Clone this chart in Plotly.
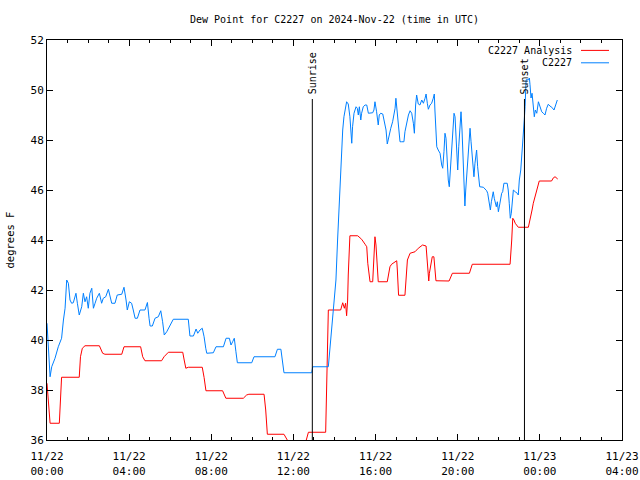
import plotly.graph_objects as go

# ---- data (hours after 2024-11-22 00:00 UTC, dew point in degrees F) ----
obs_hours = [0.0, 0.05, 0.15, 0.23, 0.39, 0.55, 0.71, 0.80, 0.88, 0.96, 1.04, 1.12, 1.20, 1.28,
             1.41, 1.48, 1.57, 1.69, 1.77, 1.85, 1.93, 2.01, 2.09, 2.18, 2.26, 2.34, 2.42, 2.55,
             2.66, 2.74, 2.86, 2.99, 3.07, 3.15, 3.31, 3.42, 3.64, 3.75, 3.85, 3.91, 4.01, 4.12,
             4.20, 4.29, 4.40, 4.53, 4.77, 4.89, 4.97, 5.02, 5.13, 5.26, 5.42, 5.54, 5.63, 5.71,
             5.83, 6.15, 6.88, 6.96, 7.13, 7.26, 7.34, 7.45, 7.56, 7.65, 7.73, 7.78, 8.10, 8.23,
             8.59, 8.72, 8.88, 8.96, 9.04, 9.12, 9.20, 9.27, 9.97, 10.08, 11.10, 11.22, 11.39,
             11.48, 11.54, 12.89, 12.94, 13.70, 13.75, 13.81, 13.90, 13.99, 14.07, 14.15, 14.23,
             14.30, 14.35, 14.40, 14.46, 14.51, 14.59, 14.67, 14.75, 14.84, 14.88, 14.95, 15.05,
             15.11, 15.16, 15.21, 15.28, 15.32, 15.40, 15.49, 15.57, 15.65, 15.76, 15.86, 15.92,
             15.97, 16.05, 16.13, 16.18, 16.25, 16.35, 16.41, 16.51, 16.57, 16.62, 16.74, 16.83,
             16.95, 16.99, 17.06, 17.11, 17.19, 17.27, 17.38, 17.43, 17.52, 17.60, 17.68, 17.76,
             17.84, 17.89, 17.95, 18.00, 18.08, 18.16, 18.25, 18.33, 18.41, 18.46, 18.52, 18.57,
             18.65, 18.73, 18.81, 18.86, 18.89, 18.94, 18.98, 19.05, 19.14, 19.22, 19.27, 19.33,
             19.38, 19.43, 19.46, 19.51, 19.54, 19.59, 19.66, 19.72, 19.79, 19.82, 19.87, 19.92,
             19.95, 20.00, 20.05, 20.11, 20.16, 20.21, 20.27, 20.32, 20.35, 20.39, 20.44, 20.49,
             20.55, 20.60, 20.65, 20.70, 20.73, 20.79, 20.84, 20.89, 20.92, 20.97, 21.02, 21.07,
             21.25, 21.33, 21.41, 21.46, 21.51, 21.56, 21.59, 21.64, 21.69, 21.73, 21.78, 21.83,
             21.88, 21.93, 21.98, 22.04, 22.09, 22.14, 22.19, 22.25, 22.41, 22.46, 22.51, 22.56,
             22.61, 22.66, 22.71, 22.80, 22.90, 22.95, 23.00, 23.07, 23.11, 23.15, 23.18, 23.24,
             23.28, 23.31, 23.33, 23.44, 23.49, 23.52, 23.57, 23.62, 23.68, 23.73, 23.78, 23.85,
             23.93, 24.01, 24.09, 24.17, 24.25, 24.33, 24.41, 24.49, 24.58, 24.69, 24.75, 24.85]
obs_dewpt = [40.67, 39.9, 38.53, 38.93, 39.27, 39.73, 40.07, 40.8, 41.27, 42.4, 42.27, 41.6, 41.47, 41.49,
             41.87, 41.47, 41.0, 41.33, 41.87, 41.53, 41.73, 41.27, 41.87, 42.07, 41.27, 41.47, 41.67, 41.87,
             41.47, 41.67, 41.73, 42.03, 41.73, 41.47, 41.47, 41.8, 41.83, 42.11, 41.6, 41.2, 41.53, 41.47,
             41.2, 40.87, 40.87, 41.2, 41.2, 41.5, 40.87, 40.56, 40.56, 40.87, 40.93, 41.17, 40.73, 40.2,
             40.33, 40.83, 40.83, 40.16, 40.16, 40.44, 40.27, 40.4, 40.47, 40.13, 39.67, 39.47, 39.49, 39.73,
             39.73, 40.07, 40.07, 39.8, 39.93, 40.07, 39.53, 39.09, 39.09, 39.33, 39.33, 39.63, 39.63,
             39.13, 38.69, 38.69, 38.93, 38.93, 39.4, 40.07, 40.8, 41.6, 42.4, 44.0, 45.33,
             46.4, 47.73, 48.4, 48.93, 49.13, 49.53, 49.44, 48.93, 47.87, 48.53, 49.07, 49.33,
             49.27, 49.0, 49.33, 48.8, 49.07, 49.33, 49.4, 49.4, 49.07, 49.07, 49.09, 49.2,
             49.53, 49.13, 48.6, 49.0, 49.07, 49.04, 48.73, 48.4, 47.84, 48.07, 48.47, 48.73,
             49.27, 49.67, 49.0, 48.4, 47.93, 47.93, 47.93, 48.33, 48.73, 49.0, 49.17, 49.07,
             48.67, 48.27, 49.4, 49.8, 49.44, 49.4, 49.6, 49.47, 49.67, 49.84, 49.47, 49.23,
             49.4, 49.47, 49.67, 49.84, 49.2, 48.27, 47.73, 47.6, 47.47, 47.0, 46.87, 47.53,
             48.27, 48.07, 47.4, 46.8, 46.4, 46.13, 46.93, 47.73, 48.67, 49.07, 48.93, 48.0,
             47.47, 46.8, 47.73, 48.67, 49.13, 48.4, 47.07, 45.8, 45.36, 46.0, 46.53, 47.07,
             47.73, 48.47, 47.93, 47.33, 47.07, 46.53, 47.07, 47.33, 47.6, 46.93, 46.53, 46.13,
             46.11, 46.03, 45.97, 45.87, 45.6, 45.4, 45.2, 45.53, 45.8, 45.93, 45.67, 45.47,
             45.33, 45.53, 45.13, 45.4, 45.67, 45.87, 45.93, 46.27, 46.27, 46.0, 45.47, 44.87,
             45.07, 45.6, 46.0, 45.93, 45.87, 45.8, 46.4, 46.8, 47.2, 47.6, 48.2, 48.8,
             49.33, 49.8, 50.41, 50.41, 50.48, 50.21, 49.68, 49.87, 49.47, 48.93, 49.2, 49.07,
             49.53, 49.33, 49.13, 49.07, 49.0, 49.27, 49.43, 49.36, 49.31, 49.2, 49.33, 49.6]

analysis_hours = [0.0, 0.07, 0.15, 0.60, 0.65, 0.71, 1.57, 1.63, 1.72, 1.85, 2.55, 2.71, 2.82, 3.64,
                  3.75, 4.56, 4.66, 4.77, 5.58, 5.70, 5.91, 6.61, 6.68, 6.76, 6.88, 7.56, 7.65, 7.74,
                  8.55, 8.63, 8.71, 9.56, 9.72, 9.83, 10.57, 10.65, 10.73, 11.54, 11.64, 11.75, 11.85,
                  12.55, 12.61, 12.73, 13.57, 13.59, 13.62, 13.66, 13.70, 14.30, 14.40, 14.48, 14.54,
                  14.59, 14.64, 14.67, 14.72, 14.75, 15.13, 15.32, 15.49, 15.57, 15.62, 15.68, 15.73,
                  15.86, 15.92, 15.97, 16.02, 16.08, 16.13, 16.57, 16.62, 16.70, 16.78, 16.95, 17.03,
                  17.06, 17.11, 17.12, 17.43, 17.48, 17.55, 17.68, 17.92, 18.08, 18.29, 18.46, 18.49,
                  18.54, 18.59, 18.62, 18.70, 18.76, 18.84, 18.89, 18.94, 19.58, 19.66, 19.74, 20.57,
                  20.64, 20.71, 22.55, 22.58, 22.63, 22.68, 22.74, 22.80, 22.87, 22.95, 23.44, 23.49,
                  23.55, 23.62, 23.68, 23.76, 23.85, 23.93, 23.97, 24.57, 24.66, 24.74, 24.79, 24.87]
analysis_dewpt = [38.27, 37.47, 36.67, 36.67, 37.6, 38.51, 38.51, 39.33, 39.67, 39.77, 39.77, 39.47, 39.43, 39.43,
                  39.73, 39.73, 39.33, 39.17, 39.17, 39.33, 39.51, 39.51, 39.2, 38.87, 38.91, 38.91, 38.5, 37.97,
                  37.97, 37.8, 37.67, 37.67, 37.8, 37.83, 37.83, 37.2, 36.23, 36.23, 36.1, 35.93, 35.6,
                  35.6, 35.95, 36.31, 36.31, 37.13, 38.8, 40.33, 41.2, 41.2, 41.49, 41.27, 41.47,
                  40.97, 41.6, 42.6, 43.63, 44.17, 44.17, 44.03, 43.83, 43.73, 43.07, 42.67, 42.33,
                  42.33, 43.07, 44.13, 43.8, 43.0, 42.33, 42.33, 42.53, 42.93, 43.03, 43.13, 43.17,
                  42.8, 42.13, 41.79, 41.79, 42.47, 43.2, 43.47, 43.53, 43.67, 43.8, 43.76, 43.47,
                  42.67, 42.36, 42.67, 43.0, 43.33, 43.33, 42.93, 42.37, 42.36, 42.55, 42.67, 42.67,
                  42.9, 43.03, 43.03, 43.33, 44.0, 44.87, 44.8, 44.67, 44.6, 44.51, 44.51, 44.67,
                  44.93, 45.2, 45.47, 45.73, 45.93, 46.27, 46.36, 46.36, 46.49, 46.53, 46.49, 46.44]

sunrise_hour = 12.92
sunset_hour = 23.25
sun_line_top = 49.64

x_tick_hours = [0, 4, 8, 12, 16, 20, 24, 28]
x_tick_labels = ["11/22<br>00:00", "11/22<br>04:00", "11/22<br>08:00", "11/22<br>12:00",
                 "11/22<br>16:00", "11/22<br>20:00", "11/23<br>00:00", "11/23<br>04:00"]
y_ticks = [36, 38, 40, 42, 44, 46, 48, 50, 52]

series_names = ["C2227 Analysis", "C2227"]
series_colors = ["#ff0000", "#0080ff"]

FONT = "DejaVu Sans Mono"

fig = go.Figure()
fig.add_trace(go.Scatter(x=analysis_hours, y=analysis_dewpt, mode="lines",
                         line=dict(color=series_colors[0], width=1), name=series_names[0],
                         showlegend=False))
fig.add_trace(go.Scatter(x=obs_hours, y=obs_dewpt, mode="lines",
                         line=dict(color=series_colors[1], width=1), name=series_names[1],
                         showlegend=False))

# sunrise / sunset markers
for hr, label in [(sunrise_hour, "Sunrise"), (sunset_hour, "Sunset")]:
    fig.add_shape(type="line", xref="x", yref="y", x0=hr, x1=hr, y0=36, y1=sun_line_top,
                  line=dict(color="black", width=1))
    fig.add_annotation(x=hr, y=sun_line_top, xref="x", yref="y", text=label, textangle=-90,
                       showarrow=False, xanchor="center", yanchor="bottom", yshift=3,
                       font=dict(family=FONT, size=10, color="black"))

# legend (text left of line sample, gnuplot style)
leg_y = [0.974, 0.943]
for name, col, yy in zip(series_names, series_colors, leg_y):
    fig.add_annotation(x=0.917, y=yy, xref="paper", yref="paper", text=name, showarrow=False,
                       xanchor="right", yanchor="middle",
                       font=dict(family=FONT, size=10, color="black"))
    fig.add_shape(type="line", xref="paper", yref="paper", x0=0.9287, x1=0.9774, y0=yy, y1=yy,
                  line=dict(color=col, width=1))

fig.update_layout(
    width=640, height=480,
    margin=dict(l=47, r=18, t=40, b=40, autoexpand=False),
    paper_bgcolor="white", plot_bgcolor="white",
    font=dict(family=FONT, size=10, color="black"),
    title=dict(text="Dew Point for C2227 on 2024-Nov-22 (time in UTC)", x=0.5, xref="paper",
               xanchor="center", y=1 - 19 / 480, yanchor="middle",
               font=dict(family=FONT, size=10, color="black")),
)
fig.update_xaxes(range=[0, 28], tickvals=x_tick_hours, ticktext=x_tick_labels, automargin=False,
                 showgrid=False, zeroline=False, showline=True, linecolor="black", linewidth=1,
                 mirror="ticks", ticks="inside", ticklen=6, tickcolor="black",
                 ticklabelstandoff=6,
                 minor=dict(ticks="inside", dtick=1, ticklen=3, tickcolor="black", showgrid=False),
                 tickfont=dict(family=FONT, size=11))
fig.update_yaxes(range=[36, 52], tickvals=y_ticks, automargin=False,
                 showgrid=False, zeroline=False, showline=True, linecolor="black", linewidth=1,
                 mirror="ticks", ticks="inside", ticklen=6, tickcolor="black",
                 title=dict(text="degrees F", standoff=13, font=dict(family=FONT, size=10.5)),
                 tickfont=dict(family=FONT, size=11))

fig.write_html("out.html")
